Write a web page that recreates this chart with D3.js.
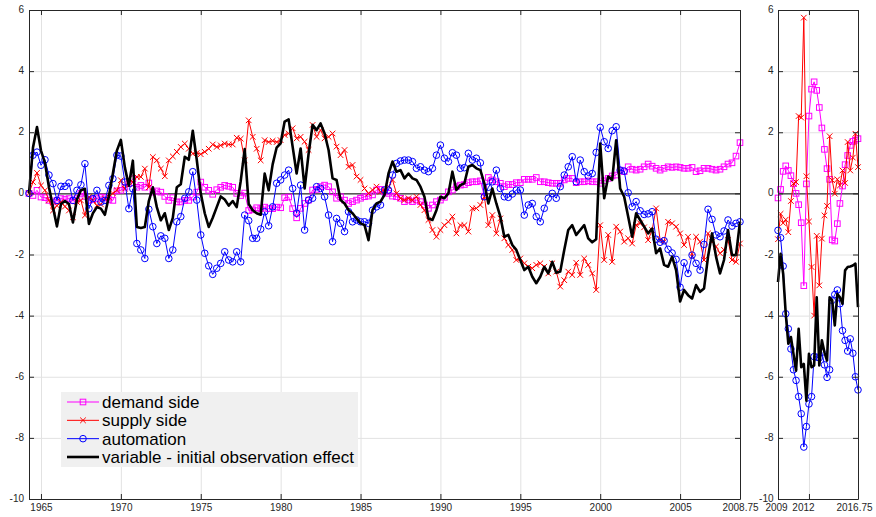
<!DOCTYPE html>
<html>
<head>
<meta charset="utf-8">
<script src="https://cdn.jsdelivr.net/npm/d3@7"></script>
<style>
  body { margin: 0; background: #fff; }
  svg { display: block; font-family: "Liberation Sans", Arial, Helvetica, sans-serif; }
  .tick text { fill: #262626; font-size: 10px; }
  .grid line { stroke: #e2e2e2; }
  .grid .domain { display: none; }
</style>
</head>
<body>
<svg width="876" height="517"></svg>
<script>
// quarterly observations, first panel starts 1964.25, second panel 2009.0
var histStart = 1964.25;
var postStart = 2009;

var demandHist = [0,-0.07,0.1,-0.12,-0.14,-0.23,-0.28,-0.23,-0.17,-0.2,-0.17,-0.23,-0.17,0,-0.1,-0.23,-0.2,-0.17,-0.12,-0.14,
  -0.2,-0.23,0.08,0.1,0.2,0.32,0.48,0.2,0.26,0.2,0.34,0.04,0.08,0.04,-0.1,-0.23,-0.14,-0.28,-0.28,-0.23,
  -0.23,-0.12,0.04,0.37,0.2,0.1,-0.03,0.12,0.2,0.26,0.23,0.2,0,-0.07,0.01,-0.56,-0.54,-0.47,-0.5,-0.45,
  -0.5,-0.5,-0.45,-0.47,-0.14,-0.12,-0.5,-0.8,-0.49,-0.33,-0.22,0.11,0.13,0.22,0.27,0.22,0.05,-0.16,-0.11,-0.22,
  -0.33,-0.27,-0.22,-0.16,-0.11,-0.09,-0.05,0.11,0.13,0.05,0,-0.09,-0.11,-0.16,-0.27,-0.22,-0.27,-0.22,-0.27,-0.38,
  -0.49,-0.38,-0.27,-0.22,-0.13,0.05,0.11,0.22,0.27,0.29,0.35,0.38,0.38,0.41,-0.09,0.52,0.44,0.38,0.33,0.22,
  0.29,0.29,0.35,0.35,0.46,0.46,0.46,0.52,0.38,0.38,0.35,0.33,0.33,0.33,0.44,0.49,0.49,0.35,0.38,0.38,
  0.41,0.38,0.38,0.33,0.41,0.49,0.57,0.6,0.76,0.71,0.87,0.79,0.76,0.79,0.87,0.96,0.89,0.82,0.76,0.82,
  0.87,0.85,0.87,0.85,0.82,0.82,0.85,0.71,0.74,0.82,0.82,0.79,0.76,0.79,0.87,0.96,1.0,1.22,1.66];

var supplyHist = [0,0.37,0.67,0.26,0.1,-0.23,-0.56,-0.4,-0.28,-0.43,-0.56,-0.78,-0.28,-0.23,-0.72,-0.12,-0.23,-0.4,-0.36,-0.17,
  -0.12,0,0.1,0.43,0.15,0.48,0.37,0.54,0.54,0.81,0.2,1.19,1.08,0.81,0.56,1.08,1.21,1.36,1.52,1.63,
  1.46,1.3,1.32,1.28,1.36,1.46,1.6,1.52,1.57,1.63,1.6,1.6,1.82,1.79,1.08,2.39,1.85,1.46,1.08,1.74,
  1.68,1.72,1.68,1.74,1.91,1.96,2.13,1.8,1.85,1.69,1.42,2.24,1.85,2.07,1.8,1.85,1.96,1.53,1.25,1.42,
  0.87,0.93,0.55,0.44,0.16,0,0.11,0.22,0.05,0.11,0.22,0.44,0,-0.16,-0.22,-0.16,-0.22,-0.11,-0.38,-0.55,
  -0.87,-1.2,-1.42,-1.2,-1.04,-0.93,-0.76,-1.31,-1.04,-1.04,-1.25,-0.49,-0.49,-0.38,-0.11,-1.04,-0.71,-1.31,-0.82,-1.47,
  -1.69,-1.85,-2.18,-2.13,-2.29,-2.4,-2.45,-2.34,-2.29,-2.4,-2.62,-2.29,-2.56,-3.05,-2.84,-2.56,-2.67,-2.27,-2.67,-2.13,
  -2.34,-2.62,-3.16,-1.04,-2.18,-1.36,-2.24,-1.09,-1.25,-1.58,-1.47,-1.64,-1.04,-0.98,-1.11,-1.53,-1.2,-0.49,-1.53,-1.58,
  -0.93,-0.98,-1.09,-1.31,-1.69,-1.42,-2.07,-1.42,-1.58,-2.18,-1.31,-1.58,-1.74,-1.96,-1.85,-1.53,-2.18,-2.24,-1.64];

var automationHist = [0,1.25,1.35,0.92,1.1,0.6,0.32,-0.23,0.23,0.23,0.34,-0.23,0.1,0.28,0.97,-0.5,-0.17,0.1,-0.28,-0.23,
  0.26,0.48,1.25,1.22,0.37,-0.5,0.15,-1.64,-1.85,-2.13,-0.52,-1.09,-1.64,-1.39,-1.47,-2.13,-1.85,-0.93,-0.76,-0.16,
  0.05,0.71,-0.22,-1.36,-1.96,-2.37,-2.65,-2.45,-2.29,-1.91,-2.18,-2.24,-1.91,-2.24,-0.71,-0.89,-1.47,-1.47,-1.17,-0.6,
  -1.06,-0.44,0.33,0.44,0.6,0.76,0.16,-0.65,0.27,-1.2,-0.22,-0.16,0.22,0.16,-0.11,-0.71,-1.58,-0.82,-0.98,-1.25,
  -0.6,-0.93,-0.87,-0.93,-0.93,-0.98,-0.55,-0.44,-0.38,0.11,0.11,0.6,0.98,1.06,1.09,1.09,1.04,0.82,0.87,0.76,
  0.71,0.82,1.25,1.58,1.15,1.04,1.33,1.25,0.82,0.84,1.31,1.09,1.15,1.0,-0.11,0.2,0.38,0.76,0.16,-0.11,
  -0.13,-0.02,0.11,0.11,-0.71,-0.38,-0.33,-0.76,-0.93,-0.49,-0.16,0,-0.16,0.22,0.6,0.87,1.2,0.38,1.09,0.71,
  0.57,0.65,1.34,2.16,1.69,1.47,2.05,2.18,0.76,0.73,0.02,-0.44,-0.27,-0.57,-0.69,-0.67,-0.6,-1.5,-1.6,-1.55,
  -1.83,-1.95,-2.16,-3.07,-2.27,-2.62,-2.02,-2.29,-2.51,-1.67,-0.52,-0.85,-1.36,-1.42,-1.23,-0.87,-1.07,-0.98,-0.93];

var variableHist = [0,1.5,2.17,1.4,1.0,0.2,-0.45,-1.08,-0.35,-0.25,-0.35,-0.95,-0.2,0.1,0.15,-1.0,-0.65,-0.45,-0.5,-0.7,
  -0.1,0.65,1.4,1.75,0.85,0.25,1.07,-1.1,-1.13,-1.1,-0.25,0.2,-0.45,-0.88,-0.65,-1.2,-0.8,0.2,0.3,1.2,
  1.1,2.05,1.1,0,-0.65,-1.1,-0.8,-0.45,-0.1,-0.2,-0.4,-0.25,-0.45,0.4,1.45,-0.35,-0.55,-0.65,-0.7,0.65,
  0.1,0.95,1.5,1.64,2.35,2.42,1.53,0.65,1.47,0.16,1.3,2.24,2.07,2.29,1.96,1.42,0.49,0.44,-0.22,-0.33,
  -0.55,-0.65,-0.82,-0.98,-1.04,-1.53,-0.55,-0.33,-0.27,-0.05,0.65,1.04,0.71,0.76,0.49,0.65,0.49,0.44,0.22,-0.11,
  -0.82,-0.87,-0.55,-0.11,-0.16,0,0.71,0.11,0.27,0.33,0.87,0.93,0.82,0.76,0.33,-0.33,0.16,-0.33,-0.76,-1.42,
  -1.36,-1.69,-1.85,-2.18,-2.51,-2.4,-2.73,-2.94,-2.73,-2.4,-2.62,-2.24,-2.6,-2.56,-1.85,-1.2,-1.04,-1.36,-1.2,-1.04,
  -1.47,-1.6,-1.5,1.63,-0.16,0.55,0.44,1.74,0.16,-0.11,-0.76,-1.42,-0.65,-0.87,-1.09,-1.31,-1.15,-1.96,-1.8,-2.34,
  -2.4,-2.07,-2.51,-3.54,-3.16,-3.33,-3.44,-3.0,-3.22,-3.11,-2.07,-1.31,-2.07,-2.62,-2.18,-1.2,-2.02,-2.02,-0.93];

var demandPost = [-0.15,0.13,0.72,0.9,0.75,0.58,0.32,0,-0.37,-0.96,-3.02,0.31,2.53,3.41,3.65,3.37,
  2.81,2.14,1.44,0.81,0.46,-1.52,-1.56,-0.99,-0.33,0.24,0.94,1.24,1.57,1.7,1.74,1.79];
var supplyPost = [-1.5,-0.67,-0.97,-0.86,-1.27,-0.25,0.32,0.37,2.53,2.48,5.75,0.56,-0.92,-2.41,-4.0,-1.39,
  -3.01,-1.48,-0.72,-0.41,1.87,0.43,-0.01,0.46,0.26,0.75,0.34,1.68,0.75,1.17,1.95,0.86];
var automationPost = [-1.21,-1.45,-2.38,-3.94,-4.43,-5.09,-5.77,-6.12,-6.65,-7.21,-8.3,-7.63,-6.89,-6.65,-5.34,-5.36,
  -5.38,-5.2,-5.61,-6.02,-5.77,-3.5,-3.31,-3.16,-3.61,-4.49,-4.81,-5.16,-4.76,-5.23,-6.0,-6.43];
var variablePost = [-2.9,-1.98,-2.63,-3.94,-4.92,-4.7,-5.25,-5.8,-4.43,-5.69,-5.58,-6.78,-5.25,-5.69,-5.63,-3.4,
  -5.63,-4.81,-5.2,-5.47,-3.4,-3.5,-4.32,-3.29,-3.4,-3.61,-2.52,-2.41,-2.39,-2.36,-2.3,-3.72];

var yTicks = [-10,-8,-6,-4,-2,0,2,4,6];
var xTicksHist = [1965,1970,1975,1980,1985,1990,1995,2000,2005,2008.75];
var xTicksPost = [2009,2012,2016.75];

var legendLabels = ["demand side", "supply side", "automation", "variable - initial observation effect"];

// series styles, in plotting order
var seriesStyle = [
  {color: "#ff00ff", marker: "square", width: 1},
  {color: "#ff0000", marker: "x", width: 1},
  {color: "#0000ff", marker: "circle", width: 1},
  {color: "#000000", marker: null, width: 2.6}
];

var svg = d3.select("svg");
// note: "top" is a reserved window property, so use other names
var plotTop = 10, plotBottom = 499;

var y = d3.scaleLinear().domain([-10, 6]).range([plotBottom, plotTop]);

// turn a value array into {t, v} points on a quarterly grid
function quarterly(values, start) {
  return values.map(function(v, i) { return {t: start + i / 4, v: v}; });
}

// one marker at (cx, cy)
function addMarker(g, cx, cy, style) {
  if (style.marker == "circle") {
    g.append("circle").attr("cx", cx).attr("cy", cy).attr("r", 3.3)
      .attr("fill", "none").attr("stroke", style.color);
  } else if (style.marker == "square") {
    g.append("rect").attr("x", cx - 2.8).attr("y", cy - 2.8)
      .attr("width", 5.6).attr("height", 5.6)
      .attr("fill", "none").attr("stroke", style.color);
  } else if (style.marker == "x") {
    g.append("path").attr("d", "M-2.8,-2.8L2.8,2.8M-2.8,2.8L2.8,-2.8")
      .attr("transform", "translate(" + cx + "," + cy + ")")
      .attr("stroke", style.color);
  }
}

function drawPanel(x, xTicks, seriesList, yLabelPad, labelShift) {
  var left = x.range()[0], right = x.range()[1];
  var panel = svg.append("g");

  // grid lines
  panel.append("g").attr("class", "grid")
    .attr("transform", "translate(0," + plotBottom + ")")
    .call(d3.axisBottom(x).tickValues(xTicks).tickSize(-(plotBottom - plotTop)).tickFormat(""));
  panel.append("g").attr("class", "grid")
    .attr("transform", "translate(" + left + ",0)")
    .call(d3.axisLeft(y).tickValues(yTicks).tickSize(-(right - left)).tickFormat(""));

  // zero line
  panel.append("line")
    .attr("x1", left).attr("x2", right)
    .attr("y1", y(0) + 0.5).attr("y2", y(0) + 0.5)
    .attr("stroke", "#000").attr("stroke-width", 1);

  // data series
  var line = d3.line()
    .x(function(d) { return x(d.t); })
    .y(function(d) { return y(d.v); });

  seriesList.forEach(function(pts, k) {
    var style = seriesStyle[k];
    var g = panel.append("g");
    g.append("path")
      .attr("d", line(pts))
      .attr("fill", "none")
      .attr("stroke", style.color)
      .attr("stroke-width", style.width)
      .attr("stroke-linejoin", "round");
    if (style.marker) {
      pts.forEach(function(d) { addMarker(g, x(d.t), y(d.v), style); });
    }
  });

  // axes, ticks point inward like the original
  var fmt = function(d) { return String(d); };
  var xAxis = panel.append("g").attr("class", "axis")
    .attr("transform", "translate(0," + plotBottom + ")")
    .call(d3.axisBottom(x).tickValues(xTicks).tickSize(-5).tickSizeOuter(0).tickPadding(5).tickFormat(fmt));
  // the narrow panel squeezes its labels a little to the left
  xAxis.selectAll(".tick text").attr("dx", function(d, i) { return labelShift ? labelShift[i] : 0; });
  panel.append("g").attr("class", "axis")
    .attr("transform", "translate(0," + plotTop + ")")
    .call(d3.axisTop(x).tickValues(xTicks).tickSize(-5).tickSizeOuter(0).tickFormat(""));
  var yAxis = panel.append("g").attr("class", "axis")
    .attr("transform", "translate(" + left + ",0)")
    .call(d3.axisLeft(y).tickValues(yTicks).tickSize(-5).tickSizeOuter(0).tickPadding(yLabelPad).tickFormat(fmt));
  yAxis.selectAll(".tick text").attr("dy", "0.25em");
  panel.append("g").attr("class", "axis")
    .attr("transform", "translate(" + right + ",0)")
    .call(d3.axisRight(y).tickValues(yTicks).tickSize(-5).tickSizeOuter(0).tickFormat(""));

  panel.selectAll(".axis .domain").attr("stroke", "#262626");
  panel.selectAll(".axis line").attr("stroke", "#262626");
  panel.selectAll(".axis text").attr("font-family", null).attr("font-size", null);
}

var xHist = d3.scaleLinear().domain([1964.25, 2008.75]).range([29, 740]);
var xPost = d3.scaleLinear().domain([2009, 2016.75]).range([778, 858]);

drawPanel(xHist, xTicksHist, [
  quarterly(demandHist, histStart),
  quarterly(supplyHist, histStart),
  quarterly(automationHist, histStart),
  quarterly(variableHist, histStart)
], 5, null);

drawPanel(xPost, xTicksPost, [
  quarterly(demandPost, postStart),
  quarterly(supplyPost, postStart),
  quarterly(automationPost, postStart),
  quarterly(variablePost, postStart)
], 4.5, [-2, -6, -4]);

// legend box
var legend = svg.append("g").attr("transform", "translate(61,392)");
legend.append("rect")
  .attr("width", 297).attr("height", 75)
  .attr("fill", "#f0f0f0");

var rowY = d3.scalePoint().domain(d3.range(legendLabels.length)).range([10, 65]);

legendLabels.forEach(function(label, k) {
  var style = seriesStyle[k];
  var row = legend.append("g").attr("transform", "translate(0," + rowY(k) + ")");
  row.append("line")
    .attr("x1", 6).attr("x2", 38)
    .attr("stroke", style.color)
    .attr("stroke-width", style.width);
  if (style.marker) addMarker(row, 22, 0, style);
  row.append("text")
    .attr("x", 41)
    .attr("dy", "0.35em")
    .attr("font-size", "17px")
    .attr("fill", "#000")
    .text(label);
});
</script>
</body>
</html>
